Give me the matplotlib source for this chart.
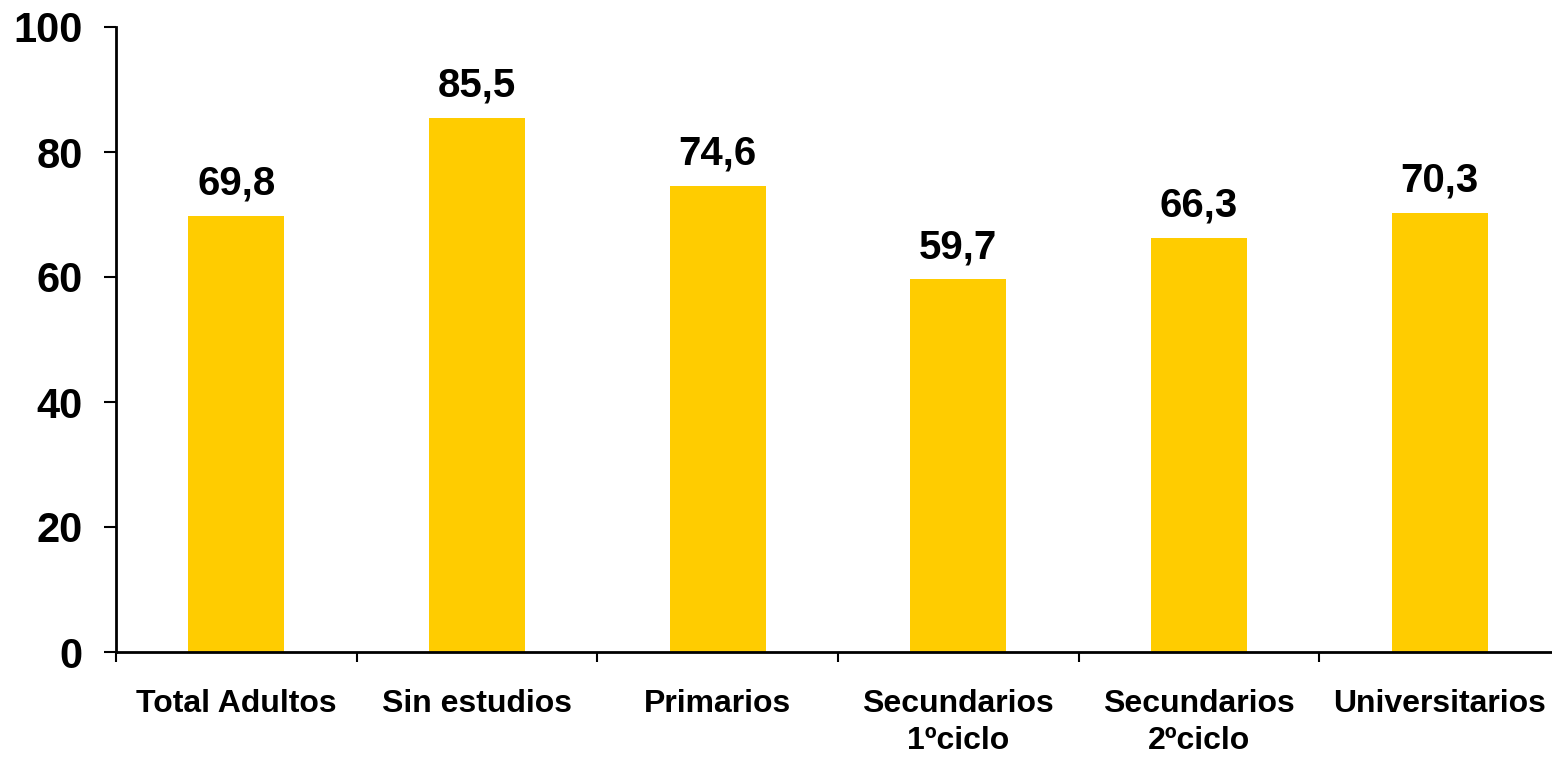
import matplotlib
matplotlib.use("Agg")
import matplotlib.pyplot as plt

categories = ["Total Adultos", "Sin estudios", "Primarios",
              "Secundarios\n1ºciclo", "Secundarios\n2ºciclo", "Universitarios"]
values = [69.8, 85.5, 74.6, 59.7, 66.3, 70.3]
y_ticks = [0, 20, 40, 60, 80, 100]

plt.rcParams['font.family'] = ['Liberation Sans', 'DejaVu Sans']
plt.rcParams['font.weight'] = 'bold'

fig = plt.figure(figsize=(15.52, 7.61), dpi=100)
ax = fig.add_axes([116 / 1552, 1 - 652 / 761, (1560 - 116) / 1552, (652 - 27) / 761])

x = range(len(categories))
bars = ax.bar(x, values, width=0.40, color='#FFCC00', zorder=2)

for bar, v in zip(bars, values):
    ax.annotate(f"{v:.1f}".replace('.', ','),
                (bar.get_x() + bar.get_width() / 2, v),
                xytext=(0, 15), textcoords='offset points',
                ha='center', va='baseline', fontsize=29, fontweight='bold')

ax.set_xlim(-0.5, len(categories) - 0.5)
ax.set_ylim(0, 100)
ax.set_yticks(y_ticks)
ax.tick_params(axis='y', labelsize=30, length=9, width=1.5, pad=15)

# boundaries as major ticks, labels on minor ticks at bar centers
ax.set_xticks([i - 0.5 for i in range(len(categories) + 1)])
ax.set_xticklabels([])
ax.set_xticks(list(x), minor=True)
ax.set_xticklabels(categories, minor=True, fontsize=23, fontweight='bold',
                   linespacing=1.3)
ax.tick_params(axis='x', which='major', length=7, width=1.5)
ax.tick_params(axis='x', which='minor', length=0, pad=27)

for s in ['top', 'right']:
    ax.spines[s].set_visible(False)
for s in ['left', 'bottom']:
    ax.spines[s].set_linewidth(2)

fig.savefig('out.png', dpi=100)
